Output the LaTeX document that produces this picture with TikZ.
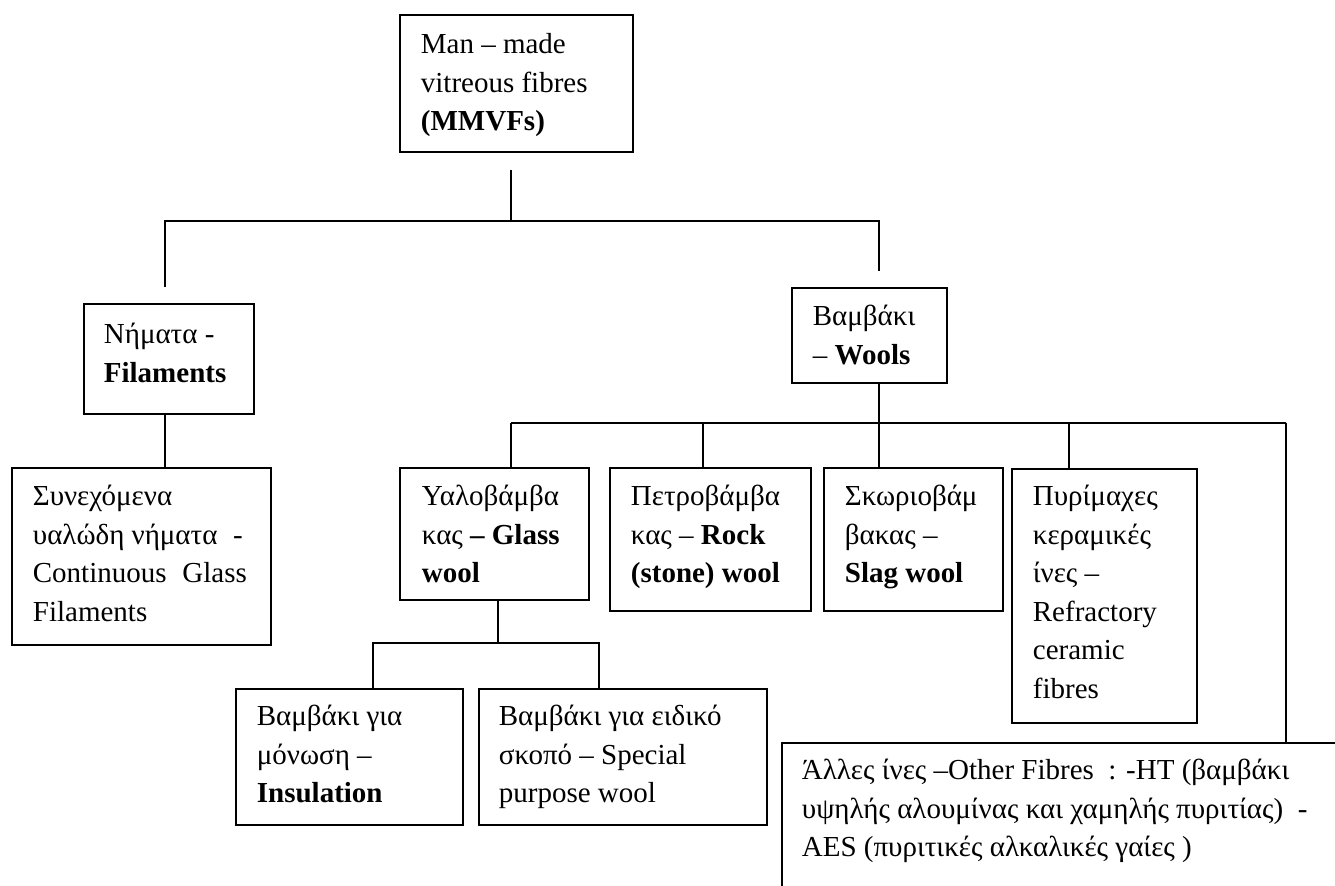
\documentclass[tikz,border=0pt]{standalone}
\usepackage{fontspec}
\setmainfont{Liberation Serif}
\newdimen\pxu \pxu=0.5pt
\newcommand\boxtext[5]{\parbox[c][#2\pxu][t]{#1\pxu}{\fontsize{14.5pt}{19.25pt}\selectfont\leftskip=#3\pxu\rightskip=0pt plus 1fil\parindent=0pt\parfillskip=0pt plus 1fil\rule{0pt}{#4\pxu}#5\par}}
\begin{document}
\begin{tikzpicture}[x=0.5pt,y=-0.5pt,
  box/.style={draw,line width=0.9pt,inner sep=0pt,anchor=north west},
  conn/.style={line width=0.9pt}]
\useasboundingbox (0,0) rectangle (1335,886);
\clip (0,0) rectangle (1335,886);
% boxes
\node[box] (mmvf) at (399,14) {\boxtext{233}{137}{21}{39}{Man – made\\vitreous fibres\\\textbf{(MMVFs)}}};
\node[box] (fil) at (83,303) {\boxtext{170}{110}{20}{40}{Νήματα -\\\textbf{Filaments}}};
\node[box] (wools) at (791,287) {\boxtext{155}{95}{21}{38}{Βαμβάκι\\– \textbf{Wools}}};
\node[box] (cont) at (11,467) {\boxtext{259}{177}{21}{38}{Συνεχόμενα\\\makebox[210\pxu][s]{υαλώδη νήματα\hfill-}\\\makebox[214\pxu][s]{Continuous Glass}\\Filaments}};
\node[box] (glass) at (399,467) {\boxtext{189}{132}{22}{38}{Υαλοβάμβα\\κας \textbf{– Glass}\\\textbf{wool}}};
\node[box] (rock) at (609,467) {\boxtext{201}{143}{21}{38}{Πετροβάμβα\\κας – \textbf{Rock}\\\textbf{(stone) wool}}};
\node[box] (slag) at (823,467) {\boxtext{179}{143}{21}{38}{Σκωριοβάμ\\βακας –\\\textbf{Slag wool}}};
\node[box] (refr) at (1011,468) {\boxtext{185}{254}{21}{37}{Πυρίμαχες\\κεραμικές\\ίνες –\\Refractory\\ceramic\\fibres}};
\node[box] (ins) at (235,688) {\boxtext{227}{136}{21}{37}{Βαμβάκι για\\μόνωση –\\\textbf{Insulation}}};
\node[box] (spec) at (478,688) {\boxtext{288}{136}{20}{37}{Βαμβάκι για ειδικό\\σκοπό – Special\\purpose wool}};
\node[box] (other) at (781,742) {\boxtext{700}{250}{20}{37}{Άλλες ίνες –Other Fibres~ : -HT (βαμβάκι\\υψηλής αλουμίνας και χαμηλής πυριτίας)~ -\\AES (πυριτικές αλκαλικές γαίες )}};
% junctions
\coordinate (j0) at (511,221);
\coordinate (jL) at (165,221);
\coordinate (jR) at (879,221);
\coordinate (k0) at (879,423);
\coordinate (kL) at (511,423);
\coordinate (k1) at (703,423);
\coordinate (k3) at (1069,423);
\coordinate (kR) at (1286,423);
\coordinate (g0) at (498,643);
\coordinate (gL) at (373,643);
\coordinate (gR) at (599,643);
% connectors
\draw[conn] (mmvf.south -| j0) ++(0,17) -- (j0);
\draw[conn] (jL |- fil.north) ++(0,-16) -- (jL) -- (jR) -- ++(0,50);
\draw[conn] (fil.south -| jL) -- (cont.north -| jL);
\draw[conn] (wools.south -| k0) -- (k0);
\draw[conn] (kL) -- (kR);
\draw[conn] (kL) -- (kL |- glass.north);
\draw[conn] (k1) -- (k1 |- rock.north);
\draw[conn] (k0) -- (k0 |- slag.north);
\draw[conn] (k3) -- (k3 |- refr.north);
\draw[conn] (kR) -- (kR |- other.north);
\draw[conn] (glass.south -| g0) -- (g0);
\draw[conn] (gL |- ins.north) -- (gL) -- (gR) -- (gR |- spec.north);
\end{tikzpicture}
\end{document}
